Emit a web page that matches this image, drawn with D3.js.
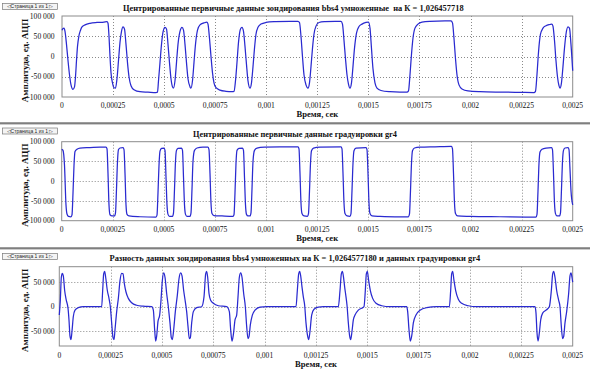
<!DOCTYPE html>
<html><head><meta charset="utf-8">
<script src="https://cdn.jsdelivr.net/npm/d3@7"></script>
<style>body{margin:0;background:#fff}svg{display:block}text{white-space:pre}</style>
</head><body>
<svg id="c" width="590" height="373"></svg>
<script>
// ---------- data ----------
const xTicks = [0, 0.00025, 0.0005, 0.00075, 0.001, 0.00125, 0.0015, 0.00175, 0.002, 0.00225, 0.0025];
const xTickLabels = ["0", "0,00025", "0,0005", "0,00075", "0,001", "0,00125", "0,0015", "0,00175", "0,002", "0,00225", "0,0025"];
const yTicksMain = [-100000, -50000, 0, 50000, 100000];
const yTickLabelsMain = ["-100 000", "-50 000", "0", "50 000", "100 000"];
const yTicksDiff = [-50000, 0, 50000];
const yTickLabelsDiff = ["-50 000", "0", "50 000"];
const titles = [
  "Центрированные первичные данные зондирования bbs4 умноженные  на К = 1,026457718",
  "Центрированные первичные данные градуировки gr4",
  "Разность данных зондирования bbs4 умноженных на К = 1,0264577180 и данных градуировки gr4"
];
const yAxisTitle = "Амплитуда, ед. АЦП";
const xAxisTitle = "Время, сек";
const pageButton = "◁Страница 1 из 1 ▷";

// bbs4 * K  (time in microseconds, amplitude in ADC units)
const timeBbs4Us = [0,4.9,9.8,14.7,22,29.4,36.7,44.1,53.8,61.2,66.1,71,75.9,83.2,90.6,97.9,112.6,137.1,171.3,205.6,220.3,225.2,230.1,235,239.9,247.2,254.5,261.9,269.2,276.6,283.9,291.3,298.6,305.9,313.3,320.6,328,337.8,352.4,381.8,421,460.1,467.5,472.4,479.7,487.1,494.4,504.2,511.5,518.9,526.2,533.6,540.9,545.8,553.1,560.5,567.8,577.6,587.4,594.8,602.1,609.4,616.8,626.6,631.5,638.8,646.1,653.5,663.3,675.5,695.1,709.8,714.7,722,729.4,736.7,744,753.8,773.4,802.8,832.2,842,849.3,856.6,864,873.8,881.1,888.5,895.8,903.2,910.5,920.3,927.6,935,942.3,949.6,959.4,974.1,998.6,1042.6,1116,1155.2,1162.6,1169.9,1177.2,1184.6,1194.4,1204.2,1211.5,1218.9,1226.2,1233.5,1243.3,1258,1287.4,1336.3,1365.7,1373,1380.4,1387.7,1395.1,1402.4,1409.8,1417.1,1424.4,1431.8,1441.6,1453.8,1468.5,1488.1,1500.3,1507.7,1515,1522.3,1532.1,1541.9,1561.5,1605.6,1654.5,1688.8,1696.1,1703.5,1710.8,1718.1,1727.9,1742.6,1762.2,1801.4,1874.8,1904.2,1911.5,1918.8,1926.2,1933.5,1943.3,1958,1987.4,2046.1,2144,2241.9,2310.4,2317.8,2325.1,2332.5,2342.3,2354.5,2369.2,2388.8,2398.6,2403.4,2410.8,2418.1,2425.5,2432.8,2437.7,2445,2452.4,2459.7,2467.1,2476.9,2484.2,2491.6,2500];
const valBbs4 = [65000,69000,70000,62000,30000,-10000,-45000,-70000,-81000,-75000,-50000,-10000,25000,52000,65000,73000,78000,82000,84000,85000,86000,82000,50000,0,-40000,-65000,-77000,-78000,-55000,-10000,35000,62000,73000,68000,30000,-15000,-50000,-72000,-82000,-87000,-88000,-89000,-88000,-60000,-15000,30000,60000,72000,68000,30000,-15000,-55000,-75000,-78000,-60000,-15000,30000,62000,72000,65000,30000,-15000,-55000,-75000,-78000,-60000,-15000,30000,65000,78000,83000,85000,80000,45000,0,-40000,-65000,-77000,-83000,-86000,-87000,-86000,-60000,-15000,35000,68000,72000,62000,25000,-20000,-60000,-78000,-65000,-25000,20000,55000,72000,80000,84000,86000,87000,87000,84000,50000,0,-45000,-70000,-78000,-65000,-25000,20000,55000,75000,84000,86000,87000,87000,80000,40000,-5000,-45000,-68000,-78000,-65000,-25000,20000,58000,74000,80000,84000,85000,70000,20000,-30000,-65000,-78000,-84000,-87000,-88000,-88000,-85000,-45000,5000,45000,70000,80000,85000,87000,88000,88000,83000,45000,-5000,-45000,-70000,-80000,-85000,-87000,-88000,-88500,-89000,-86000,-45000,10000,55000,70000,76000,79000,80000,75000,40000,-10000,-50000,-72000,-78000,-65000,-25000,20000,55000,73000,70000,30000,-35000];

// gr4
const timeGr4Us = [0,6.4,13.7,21,25.9,33.3,45.5,50.4,55.3,60.2,65.1,74.8,89.5,138.4,187.4,216.7,221.6,226.5,231.4,236.3,246.1,258.3,263.2,268.1,273,277.9,285.2,299.9,304.8,309.7,314.6,319.5,329.2,383,461.3,466.2,471.1,476,480.9,488.2,500.5,505.4,510.3,515.2,520.1,527.4,542.1,547,551.9,556.7,561.6,569,586.1,591,595.9,600.8,605.7,613,627.7,632.6,637.5,642.3,649.7,661.9,691.2,715.7,720.6,725.5,730.4,735.3,745.1,784.2,838,842.9,847.8,852.7,857.6,867.4,884.5,889.4,894.3,899.2,904.1,911.4,921.2,926.1,931,935.9,943.2,955.5,994.6,1068,1156,1160.9,1165.8,1170.7,1175.6,1185.4,1202.5,1207.4,1212.3,1217.2,1222.1,1231.9,1263.6,1366.4,1371.3,1376.2,1381.1,1386,1395.8,1410.4,1415.3,1420.2,1425.1,1430,1439.8,1488.7,1493.6,1498.5,1503.4,1508.3,1518.1,1557.2,1630.6,1696.6,1701.5,1706.4,1711.3,1716.2,1726,1752.9,1826.3,1907,1911.9,1916.8,1921.7,1926.6,1936.4,1997.5,2144.3,2320.4,2325.3,2330.2,2335.1,2340,2349.8,2369.4,2396.2,2401.1,2406,2410.9,2415.8,2423.2,2435.4,2440.3,2445.2,2450.1,2455,2462.3,2477,2481.9,2486.8,2491.7,2500];
const valGr4 = [81000,78000,40000,-60000,-83000,-89000,-90000,-85000,-30000,40000,75000,81000,84000,85000,86000,86000,82000,20000,-60000,-85000,-88000,-88000,-80000,-20000,50000,80000,84000,85000,80000,20000,-60000,-84000,-88000,-90000,-91000,-86000,-30000,40000,76000,83000,84000,78000,10000,-60000,-84000,-89000,-89000,-80000,-20000,50000,78000,83000,84000,78000,10000,-60000,-84000,-89000,-89000,-80000,-20000,50000,78000,84000,86000,86000,80000,20000,-55000,-82000,-87000,-88000,-89000,-85000,-30000,45000,78000,83000,84000,78000,10000,-60000,-84000,-88000,-88000,-80000,-20000,50000,78000,84000,86000,87000,87000,82000,20000,-55000,-82000,-88000,-89000,-82000,-25000,45000,77000,84000,86000,87000,82000,20000,-55000,-82000,-88000,-89000,-82000,-25000,45000,77000,84000,85000,80000,20000,-55000,-82000,-88000,-89000,-90000,-90000,-83000,-25000,45000,77000,84000,86000,87000,88000,82000,20000,-55000,-82000,-88000,-89000,-90000,-91000,-84000,-25000,45000,74000,81000,84000,85000,80000,20000,-55000,-82000,-88000,-88000,-80000,-20000,50000,78000,84000,85000,80000,30000,-25000,-60000];

// difference
const timeDiffUs = [0,5,9.9,14.8,19.6,26.1,34.2,42.4,47.2,52.1,57,61.8,68.3,76.5,92.7,117,206.3,211.2,216.1,220.9,225.8,233.9,242,248.5,255,261.5,266.4,271.2,279.4,287.5,295.6,303.7,310.2,316.7,324.8,336.2,352.4,376.8,409.2,449.8,457.9,464.4,469.3,474.1,480.6,488.7,495.2,501.7,508.2,514.7,522.8,530.9,539,545.5,550.4,556.9,565,574.7,582.9,591,597.5,605.6,613.7,620.2,626.7,633.2,638.1,644.6,652.7,668.9,693.3,704.6,712.8,717.6,722.5,729,737.1,750.1,774.4,815,828,834.5,841,847.5,855.6,863.7,870.2,876.7,883.2,889.7,897.8,905.9,912.4,918.9,923.8,930.2,940,953,977.3,1009.8,1152.6,1159.1,1165.6,1170.5,1175.4,1181.9,1188.3,1194.8,1201.3,1209.4,1214.3,1220.8,1228.9,1240.3,1261.4,1285.7,1358.8,1366.9,1373.4,1378.3,1383.1,1389.6,1396.1,1401,1407.5,1414,1418.9,1425.3,1431.8,1439.9,1456.1,1472.4,1483.7,1490.2,1495.1,1500,1506.5,1514.6,1525.9,1542.2,1569.8,1610.3,1691.5,1696.4,1702.9,1709.4,1715.9,1724,1737,1756.4,1788.9,1837.6,1899.3,1905.8,1910.6,1915.5,1922,1930.1,1943.1,1959.3,1991.8,2032.4,2316.5,2321.3,2326.2,2331.1,2337.6,2344.1,2353.8,2370,2386.2,2396,2402.5,2407.3,2413.8,2421.9,2431.7,2438.2,2444.6,2451.1,2456,2462.5,2470.6,2480.3,2486.8,2491.7,2496.5,2500];
const valDiff = [-17000,13000,60000,68000,63000,33000,13000,-3000,-27000,-60000,-67000,-50000,-20000,-7000,-2000,0,0,33000,67000,72000,60000,33000,17000,0,-33000,-63000,-67000,-47000,-10000,17000,53000,68000,67000,47000,30000,17000,8000,3000,1000,0,-7000,-47000,-70000,-60000,-30000,-17000,13000,53000,69000,60000,27000,0,-33000,-63000,-67000,-47000,-10000,23000,57000,69000,63000,33000,10000,-10000,-40000,-65000,-63000,-33000,-10000,-2000,0,20000,67000,72000,60000,27000,13000,7000,2000,0,-10000,-47000,-70000,-57000,-27000,-17000,20000,60000,69000,60000,27000,0,-40000,-65000,-61000,-37000,-17000,-7000,-1000,0,0,33000,67000,72000,63000,40000,20000,3000,-33000,-60000,-67000,-50000,-17000,-5000,-1000,0,0,33000,67000,72000,63000,40000,20000,3000,-33000,-60000,-67000,-50000,-27000,-17000,-7000,-3000,0,33000,67000,72000,53000,33000,17000,7000,2000,0,0,-10000,-47000,-70000,-60000,-33000,-17000,-7000,-2000,0,0,33000,67000,72000,53000,33000,15000,7000,2000,0,0,-13000,-53000,-70000,-53000,-27000,-13000,-7000,0,33000,67000,72000,60000,33000,13000,0,-40000,-65000,-61000,-33000,-10000,27000,63000,69000,60000,50000];

// ---------- drawing ----------
const svg = d3.select("#c");
svg.append("rect").attr("width", 590).attr("height", 373).attr("fill", "#fff");

const serif = "'Liberation Serif','Times New Roman',serif";
const lineColor = "#2a2ad0";

const panels = [
  {x0: 62, x1: 572.7, y0: 16, y1: 97, yDomain: [-100000, 100000], yt: yTicksMain, ytl: yTickLabelsMain,
   t: timeBbs4Us, v: valBbs4, title: titles[0], titleX: 123, titleY: 11, titleW: 341, btnY: 3.5, tickY: 107.5, xlabY: 116.5},
  {x0: 61.7, x1: 572.7, y0: 141.7, y1: 220.7, yDomain: [-100000, 100000], yt: yTicksMain, ytl: yTickLabelsMain,
   t: timeGr4Us, v: valGr4, title: titles[1], titleX: 193, titleY: 136.5, titleW: 204, btnY: 128, tickY: 231.5, xlabY: 240.5},
  {x0: 59.3, x1: 572.7, y0: 266.7, y1: 346, yDomain: [-80000, 81500], yt: yTicksDiff, ytl: yTickLabelsDiff,
   t: timeDiffUs, v: valDiff, title: titles[2], titleX: 109.5, titleY: 261, titleW: 371, btnY: 253.5, tickY: 357.5, xlabY: 367}
];

// separators
[122.5, 247.5].forEach(y => {
  svg.append("rect").attr("x", 0).attr("y", y).attr("width", 590).attr("height", 1.2).attr("fill", "#3a3a3a");
  svg.append("rect").attr("x", 0).attr("y", y + 1.2).attr("width", 590).attr("height", 0.8).attr("fill", "#9a9a9a");
});

function fitWidth(textSel, target) {
  const w = textSel.node().getComputedTextLength();
  const fs = parseFloat(textSel.attr("font-size"));
  if (w > 0) textSel.attr("font-size", (fs * target / w).toFixed(2));
}

panels.forEach(p => {
  const g = svg.append("g");
  const x = d3.scaleLinear().domain([0, 0.0025]).range([p.x0, p.x1]);
  const y = d3.scaleLinear().domain(p.yDomain).range([p.y1, p.y0]);

  // page button
  const b = g.append("g");
  b.append("rect").attr("x", 2.5).attr("y", p.btnY).attr("width", 55).attr("height", 6)
    .attr("fill", "#f4f4f4").attr("stroke", "#7a7a7a").attr("stroke-width", 0.7);
  b.append("text").attr("x", 30).attr("y", p.btnY + 4.8).attr("text-anchor", "middle")
    .attr("font-family", "'Liberation Sans',Arial,sans-serif").attr("font-size", 5).attr("fill", "#222")
    .text(pageButton);

  // title
  const tt = g.append("text").attr("x", p.titleX).attr("y", p.titleY).attr("text-anchor", "start")
    .attr("font-family", serif).attr("font-weight", "bold").attr("font-size", 9).attr("fill", "#111").text(p.title);
  fitWidth(tt, p.titleW);

  // grid
  const grid = g.append("g").attr("stroke", "#8a8a8a").attr("stroke-width", 1).attr("stroke-dasharray", "1,2");
  xTicks.slice(1, -1).forEach(tv => {
    grid.append("line").attr("x1", Math.round(x(tv)) + 0.5).attr("x2", Math.round(x(tv)) + 0.5)
      .attr("y1", p.y0).attr("y2", p.y1);
  });
  p.yt.forEach(tv => {
    if (tv <= p.yDomain[0] || tv >= p.yDomain[1]) return;
    grid.append("line").attr("x1", p.x0).attr("x2", p.x1)
      .attr("y1", Math.round(y(tv)) + 0.5).attr("y2", Math.round(y(tv)) + 0.5);
  });

  // frame
  g.append("rect").attr("x", p.x0).attr("y", p.y0).attr("width", p.x1 - p.x0).attr("height", p.y1 - p.y0)
    .attr("fill", "none").attr("stroke", "#8c8c8c").attr("stroke-width", 1);

  // y tick labels
  p.yt.forEach((tv, i) => {
    g.append("text").attr("x", 54.5).attr("y", y(tv) + 2.6).attr("text-anchor", "end")
      .attr("font-family", serif).attr("font-size", 7.6).attr("fill", "#111").text(p.ytl[i]);
  });
  // x tick labels
  xTicks.forEach((tv, i) => {
    g.append("text").attr("x", x(tv)).attr("y", p.tickY).attr("text-anchor", "middle")
      .attr("font-family", serif).attr("font-size", 7.6).attr("fill", "#111").text(xTickLabels[i]);
  });

  // axis titles
  g.append("text").attr("x", (p.x0 + p.x1) / 2).attr("y", p.xlabY).attr("text-anchor", "middle")
    .attr("font-family", serif).attr("font-weight", "bold").attr("font-size", 8.6).attr("fill", "#111").text(xAxisTitle);
  const yc = (p.y0 + p.y1) / 2 + 4;
  g.append("text").attr("transform", `translate(27.5,${yc}) rotate(-90)`).attr("text-anchor", "middle")
    .attr("font-family", serif).attr("font-weight", "bold").attr("font-size", 9).attr("fill", "#111").text(yAxisTitle);

  // series
  const data = p.t.map((tu, i) => [tu * 1e-6, p.v[i]]);
  const line = d3.line().x(d => x(d[0])).y(d => y(d[1])).curve(d3.curveMonotoneX);
  g.append("path").datum(data).attr("d", line).attr("fill", "none")
    .attr("stroke", lineColor).attr("stroke-width", 1.25).attr("stroke-linejoin", "round");
});
</script>
</body></html>
